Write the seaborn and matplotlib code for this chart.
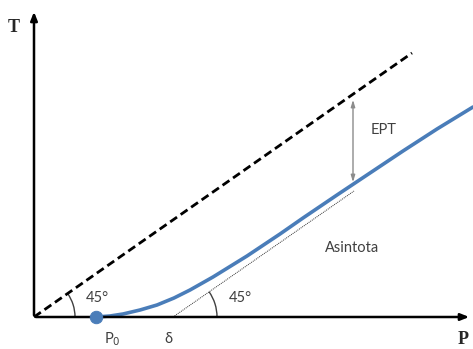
import matplotlib
matplotlib.use("Agg")
import matplotlib.pyplot as plt
from matplotlib.patches import Arc
import seaborn as sns
import pandas as pd

sns.set_style("white")

# curve T(P) (pixel-like units, origin at the axes corner)
curve_p = [62, 76, 89, 106, 123, 140, 156, 179, 213, 246, 269, 303, 336, 369, 403, 439]
curve_t = [0, 1, 3, 7, 12, 19, 27, 40, 61, 83, 99, 122, 144, 166, 188, 210]

# 45 degree reference line (dashed) and asymptote (dotted)
ref_p = [0, 378]
ref_t = [0, 264]
asym_p = [139, 320]
asym_t = [0, 126]

p0 = 62
delta = 139
ept_p = 319
ept_top = 220
ept_bottom = 132

blue = "#4a7db9"
grey_txt = "#404040"

fig = plt.figure(figsize=(4.73, 3.49), dpi=100)
ax = fig.add_axes([0, 0, 1, 1])
ax.set_xlim(-34, 439)
ax.set_ylim(-32, 317)
ax.axis("off")

sns.lineplot(x=ref_p, y=ref_t, ax=ax, color="black", lw=2, linestyle=(0, (3, 1.6)))
sns.lineplot(x=asym_p, y=asym_t, ax=ax, color="#333333", lw=0.7, linestyle=(0, (1, 1)))
sns.lineplot(data=pd.DataFrame({"P": curve_p, "T": curve_t}), x="P", y="T",
             ax=ax, color=blue, lw=2.6, sort=False)
sns.scatterplot(x=[p0], y=[0], ax=ax, color=blue, s=80, edgecolor=blue, zorder=5)

# axes with arrows
ax.annotate("", xy=(438, 0), xytext=(-1, 0),
            arrowprops=dict(arrowstyle="-|>,head_length=0.5,head_width=0.2", color="black", lw=1.8))
ax.annotate("", xy=(0, 308), xytext=(0, -1),
            arrowprops=dict(arrowstyle="-|>,head_length=0.5,head_width=0.2", color="black", lw=1.8))

# EPT double arrow
ax.annotate("", xy=(ept_p, ept_top), xytext=(ept_p, ept_bottom),
            arrowprops=dict(arrowstyle="<|-|>,head_length=0.4,head_width=0.12", color="#8c8c8c", lw=1))

# angle arcs
ax.add_patch(Arc((0, 0), 82, 82, theta1=0, theta2=35, color=grey_txt, lw=1))
ax.add_patch(Arc((delta, 0), 88, 88, theta1=0, theta2=35, color=grey_txt, lw=1))

sans = ["Lato", "DejaVu Sans"]
ax.text(-20, 289, "T", fontsize=13, fontweight="bold", family="Liberation Serif", ha="center", va="center")
ax.text(429, -23, "P", fontsize=13, fontweight="bold", family="Liberation Serif", ha="center", va="center")
ax.text(63, 19, "45°", fontsize=10.5, family=sans, color=grey_txt, ha="center", va="center")
ax.text(206, 19, "45°", fontsize=10.5, family=sans, color=grey_txt, ha="center", va="center")
ax.text(350, 187, "EPT", fontsize=10.5, family=sans, color=grey_txt, ha="center", va="center")
ax.text(318, 69, "Asintota", fontsize=10.5, family=sans, color=grey_txt, ha="center", va="center")
ax.text(78, -22, "P$_0$", fontsize=10.5, family=sans, color=grey_txt, ha="center", va="center")
ax.text(134, -22, "δ", fontsize=10.5, family=sans, color=grey_txt, ha="center", va="center")

fig.savefig("out.png", dpi=100)
